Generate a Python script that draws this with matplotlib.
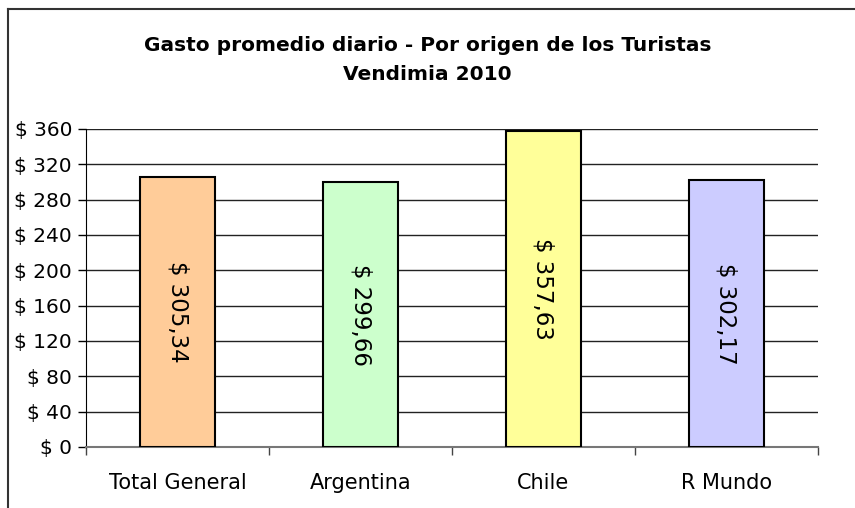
import matplotlib
matplotlib.use('Agg')
import matplotlib.pyplot as plt
from matplotlib.lines import Line2D

# datos del grafico
categorias = ['Total General', 'Argentina', 'Chile', 'R Mundo']
gasto = [305.34, 299.66, 357.63, 302.17]
etiquetas = ['$ 305,34', '$ 299,66', '$ 357,63', '$ 302,17']
ticks_y = [0, 40, 80, 120, 160, 200, 240, 280, 320, 360]
colores = ['#FFCC99', '#CCFFCC', '#FFFF99', '#CCCCFF']

plt.rcParams['font.family'] = ['DejaVu Sans']

fig = plt.figure(figsize=(8.55, 5.08), dpi=100, facecolor='white')
ax = fig.add_axes([0.1006, 0.1201, 0.8561, 0.626])

x = list(range(len(categorias)))
ax.bar(x, gasto, width=0.405, color=colores, edgecolor='black', linewidth=1.5, zorder=3)

for xi, v, txt in zip(x, gasto, etiquetas):
    ax.text(xi, v / 2.0, txt, rotation=-90, ha='center', va='center',
            fontsize=16.5, color='black', zorder=4)

ax.set_xlim(-0.5, len(categorias) - 0.5)
ax.set_ylim(0, 360)
ax.set_yticks(ticks_y)
ax.set_yticklabels(['$ {}'.format(t) for t in ticks_y], fontsize=14.5)
ax.yaxis.grid(True, color='#222222', linewidth=1.0, zorder=0)

ax.set_xticks(x)
ax.set_xticklabels(categorias, fontsize=15)
ax.tick_params(axis='x', length=0, pad=19)
ax.tick_params(axis='y', length=6, width=1, pad=4)

# ticks entre categorias
ax.set_xticks([i + 0.5 for i in range(-1, len(categorias))], minor=True)
ax.tick_params(axis='x', which='minor', length=6, width=1, color='#444444')

for s in ['top', 'right']:
    ax.spines[s].set_visible(False)
ax.spines['left'].set_color('black')
ax.spines['bottom'].set_color('#777777')
ax.spines['bottom'].set_linewidth(1.5)

fig.text(0.5, 0.882, 'Gasto promedio diario - Por origen de los Turistas\nVendimia 2010',
         ha='center', va='center', fontsize=14.5, fontweight='bold', linespacing=1.7)

# marco del area del grafico
fig.add_artist(Line2D([8 / 855, 1], [1 - 9 / 508, 1 - 9 / 508], color='#333333', linewidth=1.5))
fig.add_artist(Line2D([8 / 855, 8 / 855], [0, 1 - 9 / 508], color='#333333', linewidth=1.5))

plt.savefig('out.png', dpi=100, facecolor='white')
